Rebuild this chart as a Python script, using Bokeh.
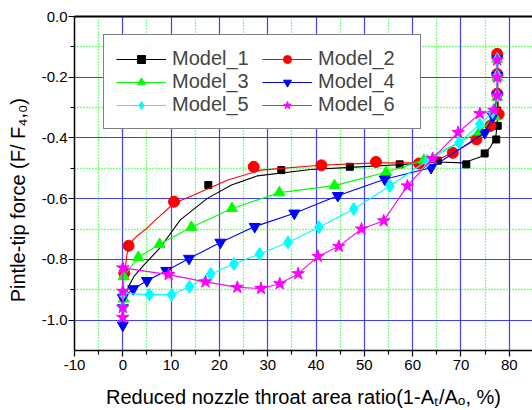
from bokeh.plotting import figure
from bokeh.models import (Range1d, FixedTicker, LinearAxis, Legend, LegendItem,
                          Grid, PrintfTickFormatter)
from bokeh.embed import file_html
from bokeh.resources import INLINE

# ---------------- data ----------------
x_ticks = [-10, 0, 10, 20, 30, 40, 50, 60, 70, 80]
x_minor = [-5, 5, 15, 25, 35, 45, 55, 65, 75]
y_ticks = [0.0, -0.2, -0.4, -0.6, -0.8, -1.0]
y_minor = [-0.1, -0.3, -0.5, -0.7, -0.9]

x_title = "Reduced nozzle throat area ratio(1-A\u209c/A\u2092, %)"
y_title = "Pintle-tip force (F/ F\u2084,\u2080)"

# Model_1 : markers and its smooth curve
m1_x = [0.3, 17.7, 32.8, 47.0, 57.3, 65.2, 71.1, 74.9, 77.3, 77.6, 77.5, 77.5, 77.5, 77.5]
m1_y = [-0.85, -0.555, -0.506, -0.495, -0.487, -0.475, -0.487, -0.451, -0.405, -0.36, -0.31, -0.255, -0.19, -0.135]
c1_x = [0.4, 1.2, 2.3, 4.3, 7.8, 11.9, 17.5, 22.5, 27.8, 38.9, 47.1, 61.6, 65.1, 70.6, 74.1, 76.1, 77.2, 77.5, 77.6, 77.6]
c1_y = [-0.93, -0.889, -0.856, -0.82, -0.76, -0.67, -0.599, -0.555, -0.525, -0.504, -0.497, -0.484, -0.479, -0.482, -0.462, -0.43, -0.397, -0.353, -0.25, -0.135]

# Model_2 : markers and its smooth curve
m2_x = [0.3, 1.2, 10.6, 27.1, 41.1, 52.4, 61.3, 68.3, 73.2, 76.1, 77.8, 77.5, 77.5, 77.5]
m2_y = [-0.845, -0.755, -0.61, -0.495, -0.49, -0.479, -0.484, -0.449, -0.405, -0.36, -0.322, -0.254, -0.189, -0.123]
c2_x = [0.4, 0.9, 1.9, 3.0, 5.0, 6.8, 10.6, 14.7, 21.6, 28.5, 40.9, 52.4, 61.3, 65.2, 68.3, 73.2, 76.1, 77.8, 77.6, 77.5]
c2_y = [-0.84, -0.78, -0.74, -0.722, -0.697, -0.67, -0.615, -0.588, -0.539, -0.506, -0.49, -0.482, -0.482, -0.471, -0.449, -0.405, -0.36, -0.322, -0.25, -0.123]

m3_x = [0.2, 0.2, 3.2, 7.6, 14.2, 22.6, 32.4, 43.8, 54.5, 62.3, 73.8, 77.0, 77.5, 77.5, 77.5]
m3_y = [-0.93, -0.856, -0.793, -0.75, -0.694, -0.632, -0.58, -0.557, -0.513, -0.473, -0.38, -0.33, -0.265, -0.2, -0.14]

m4_x = [0.0, 0.0, 0.0, 2.15, 5.0, 9.0, 13.7, 20.2, 27.3, 35.5, 44.5, 54.2, 63.8, 74.9, 76.6, 77.5, 77.5, 77.5]
m4_y = [-1.017, -0.96, -0.926, -0.897, -0.87, -0.837, -0.797, -0.744, -0.692, -0.648, -0.59, -0.536, -0.498, -0.383, -0.329, -0.26, -0.195, -0.14]

m5_x = [0.0, 0.0, 5.5, 10.1, 13.8, 18.2, 23.0, 28.3, 34.2, 40.6, 47.8, 55.3, 63.0, 69.6, 73.9, 76.5, 77.5, 77.5, 77.5]
m5_y = [-0.96, -0.912, -0.916, -0.916, -0.89, -0.848, -0.815, -0.782, -0.744, -0.694, -0.634, -0.558, -0.475, -0.415, -0.355, -0.315, -0.26, -0.195, -0.14]

m6_x = [0.0, 0.0, 0.0, 0.0, 9.5, 17.1, 23.7, 28.6, 32.5, 36.3, 40.4, 44.7, 49.4, 54.0, 58.9, 64.1, 69.4, 73.9, 76.8, 77.5, 77.5, 77.5]
m6_y = [-0.991, -0.958, -0.905, -0.828, -0.85, -0.874, -0.892, -0.896, -0.88, -0.847, -0.79, -0.757, -0.70, -0.673, -0.558, -0.468, -0.382, -0.32, -0.309, -0.26, -0.2, -0.143]

labels = ["Model_1", "Model_2", "Model_3", "Model_4", "Model_5", "Model_6"]
colors = ["#000000", "#ff0000", "#00ff00", "#0000ff", "#00ffff", "#ff00ff"]
markers = ["square", "circle", "triangle", "inverted_triangle", "diamond", "star"]
sizes = [7, 11, 11, 11, 13, 13]

FONT = "Liberation Sans"

# ---------------- figure ----------------
p = figure(width=532, height=410, output_backend="svg", toolbar_location=None,
           x_range=Range1d(-10, 84.8), y_range=Range1d(-1.1, 0.0),
           min_border_left=74, min_border_right=0, min_border_top=16, min_border_bottom=58,
           x_axis_type=None, y_axis_type=None)
p.outline_line_color = None
p.background_fill_color = "white"
p.border_fill_color = "white"

# grids
for dim, tk, mn in ((0, x_ticks, x_minor), (1, y_ticks, y_minor)):
    p.add_layout(Grid(dimension=dim, ticker=FixedTicker(ticks=tk, minor_ticks=mn),
                      grid_line_color="#0000ff", grid_line_alpha=0.75, grid_line_width=1.2,
                      minor_grid_line_color="#00ff00", minor_grid_line_width=1.3,
                      minor_grid_line_dash="1 2"))

xaxis = LinearAxis(ticker=FixedTicker(ticks=x_ticks, minor_ticks=x_minor),
                   formatter=PrintfTickFormatter(format="%d"), axis_label=x_title)
yaxis = LinearAxis(ticker=FixedTicker(ticks=y_ticks, minor_ticks=y_minor),
                   formatter=PrintfTickFormatter(format="%.1f"),
                   axis_label=y_title + "\u00a0" * 6)
for ax in (xaxis, yaxis):
    ax.axis_line_width = 1.5
    ax.axis_line_color = "black"
    ax.major_tick_in = 0
    ax.major_tick_out = 6
    ax.minor_tick_in = 0
    ax.minor_tick_out = 4
    ax.major_tick_line_width = 1.2
    ax.minor_tick_line_width = 1.2
    ax.major_label_text_font = FONT
    ax.major_label_text_font_size = "15px"
    ax.major_label_text_color = "black"
    ax.axis_label_text_font = FONT
    ax.axis_label_text_font_size = "20px"
    ax.axis_label_text_font_style = "normal"
    ax.axis_label_text_color = "black"
xaxis.major_label_standoff = 3
yaxis.major_label_standoff = 1
xaxis.axis_label_standoff = 13
yaxis.axis_label_standoff = 10
p.add_layout(xaxis, "below")
p.add_layout(yaxis, "left")

top = LinearAxis(ticker=FixedTicker(ticks=[]), axis_line_width=2, axis_line_color="black",
                 major_tick_line_color=None, minor_tick_line_color=None,
                 major_label_text_font_size="0px")
p.add_layout(top, "above")

# ---------------- series ----------------
line_data = [(c1_x, c1_y), (c2_x, c2_y), (m3_x, m3_y), (m4_x, m4_y), (m5_x, m5_y), (m6_x, m6_y)]
mark_data = [(m1_x, m1_y), (m2_x, m2_y), (m3_x, m3_y), (m4_x, m4_y), (m5_x, m5_y), (m6_x, m6_y)]

items = []
for i in range(6):
    lr = p.line(line_data[i][0], line_data[i][1], line_color=colors[i], line_width=1.1)
    sr = p.scatter(mark_data[i][0], mark_data[i][1], marker=markers[i], size=sizes[i],
                   fill_color=colors[i], line_color=colors[i])
    items.append(LegendItem(label=labels[i], renderers=[lr, sr]))

legend = Legend(items=items, location=(29, 221), orientation="horizontal", ncols=2,
                label_text_font=FONT, label_text_font_size="20px",
                glyph_width=50, glyph_height=20, label_standoff=6, label_height=20,
                label_width=90, spacing=-2, padding=12, margin=0,
                border_line_color="black", border_line_width=1.5,
                background_fill_color="white", background_fill_alpha=1.0)
p.add_layout(legend)

open("out.html", "w").write(file_html(p, INLINE))
